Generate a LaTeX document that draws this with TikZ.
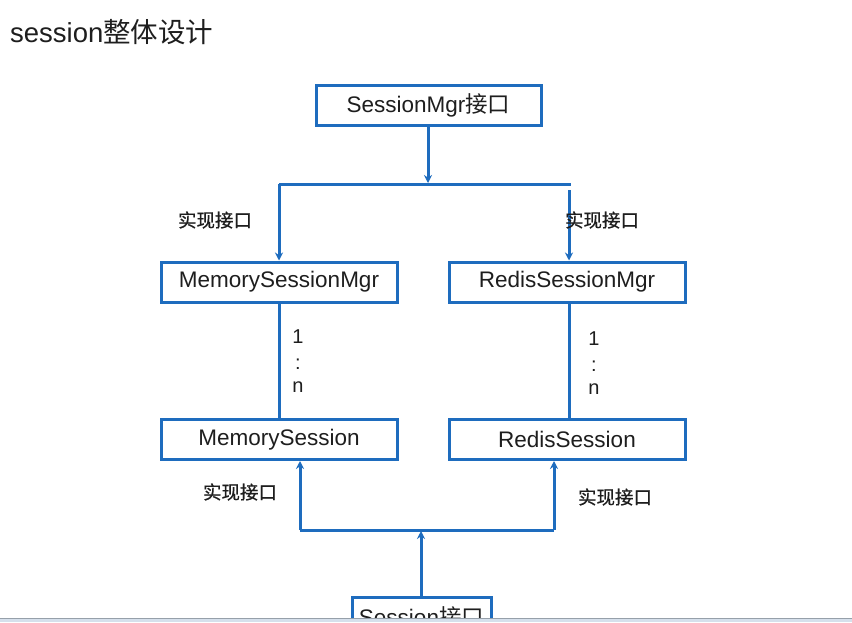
\documentclass[tikz,border=0pt]{standalone}
\usepackage{fontspec}
\setmainfont{Liberation Sans}
\newfontfamily\cjk{Noto Sans CJK SC}
\newfontfamily\cjkm[FakeBold=0.6]{Noto Sans CJK SC}
\usetikzlibrary{arrows.meta}
\definecolor{lineblue}{RGB}{30,108,190}
\definecolor{txt}{RGB}{30,30,30}
\definecolor{barfill}{RGB}{214,224,236}
\definecolor{barline}{RGB}{150,160,170}
\tikzset{
  box/.style={draw=lineblue, line width=3pt, fill=white, minimum height=40pt,
    inner sep=0pt, text=txt, font=\fontsize{22.5}{26}\selectfont},
  conn/.style={draw=lineblue, line width=3pt},
  arr/.style={conn, -{Stealth[length=8pt,width=8pt]}},
  lbl/.style={text=txt, font=\cjkm\fontsize{18.5}{22}\selectfont, inner sep=0pt},
  ratio/.style={text=txt, font=\fontsize{20}{22}\selectfont, inner sep=0pt},
}
\begin{document}
\begin{tikzpicture}[x=1pt,y=1pt]
\useasboundingbox (0,0) rectangle (852,-622);
\fill[white] (0,0) rectangle (852,-622);
\begin{scope}
\clip (0,0) rectangle (852,-618);
% title
\node[anchor=base west, inner sep=0pt, text=txt, font=\fontsize{27.5}{31}\selectfont] (title) at (10,-42) {session{\cjk 整体设计}};
% boxes
\node[box, minimum width=225pt] (smgr) at (428.5,-105) {SessionMgr{\cjk 接口}};
\node[box, minimum width=236pt] (msm) at (279,-282) {MemorySessionMgr};
\node[box, minimum width=236pt] (rsm) at (567,-282) {RedisSessionMgr};
\node[box, minimum width=236pt] (ms) at (279,-439.5) {MemorySession};
\node[box, minimum width=236pt] (rs) at (567,-439.5) {RedisSession};
\node[box, minimum width=139pt] (sess) at (421.5,-617) {Session{\cjk 接口}};
% top connectors
\coordinate (jt) at (428,-184);
\coordinate (jl) at (279,-184);
\coordinate (jr) at (571,-184);
\coordinate (jr2) at (569,-190);
\draw[arr] (smgr.south -| jt) -- ([yshift=1pt]jt);
\draw[conn] (jl) -- (jr);
\draw[arr] (jl) -- (msm.north);
\draw[arr] (jr2) -- (rsm.north -| jr2);
% 1:n lines
\draw[conn] (msm.south) -- (ms.north);
\draw[conn] (rsm.south -| jr2) -- (ms.north -| jr2);
% bottom connectors
\coordinate (bt) at (421,-530);
\coordinate (bl) at (300,-530);
\coordinate (br) at (554,-530);
\draw[conn] (bl) -- (br);
\draw[arr] (sess.north -| bt) -- ([yshift=-1pt]bt);
\draw[arr] (bl) -- (ms.south -| bl);
\draw[arr] (br) -- (rs.south -| br);
% labels
\node[lbl] (l1) at (215,-220) {实现接口};
\node[lbl] (l2) at (602,-220) {实现接口};
\node[lbl] (l3) at (240,-492) {实现接口};
\node[lbl] (l4) at (615,-497) {实现接口};
\node[ratio] (a1) at (298,-337) {1};
\node[ratio] (a2) at (298,-364) {:};
\node[ratio] (a3) at (298,-387) {n};
\node[ratio] (b1) at (594,-339) {1};
\node[ratio] (b2) at (594,-366) {:};
\node[ratio] (b3) at (594,-389) {n};
\end{scope}
% bottom screen bar
\fill[barfill] (0,-618) rectangle (852,-622);
\draw[barline, line width=0.8pt] (0,-618) -- (852,-618);
\end{tikzpicture}
\end{document}
